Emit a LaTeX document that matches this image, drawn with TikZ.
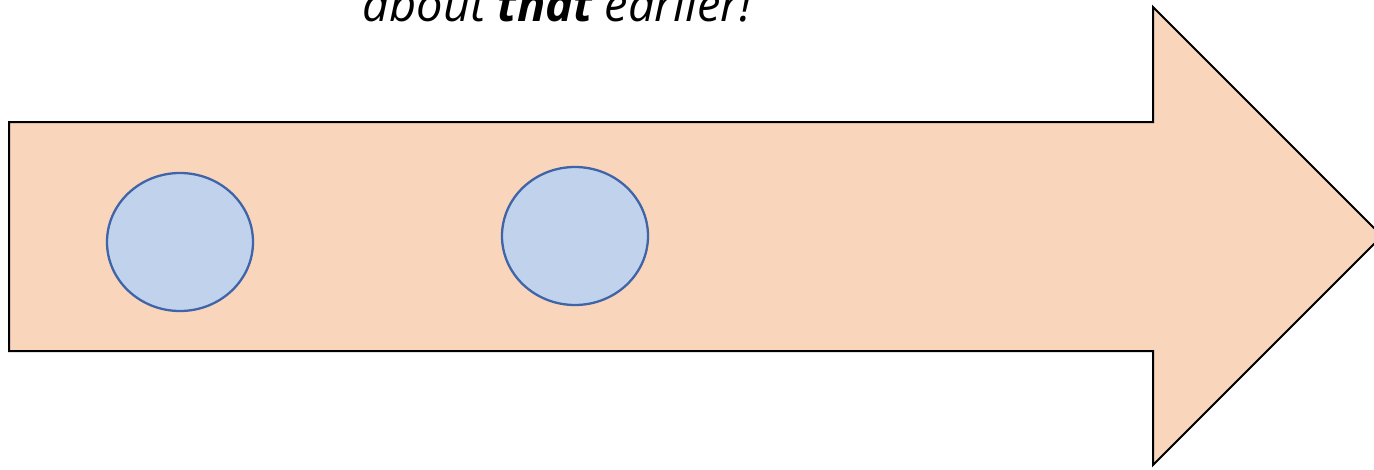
\documentclass[tikz,border=0pt]{standalone}
\usepackage{fontspec}
\setmainfont{Open Sans}
\usetikzlibrary{shapes.geometric}
\definecolor{arrowfill}{HTML}{F9D5BC}
\definecolor{dotfill}{HTML}{C1D3EC}
\definecolor{dotline}{HTML}{3F65A8}
\tikzset{
  bigarrow/.style={draw=black, line width=2pt, fill=arrowfill, line join=miter},
  dot/.style={ellipse, draw=dotline, line width=2.3pt, fill=dotfill, minimum width=146pt, minimum height=138pt, inner sep=0pt},
  caption/.style={font=\fontsize{47}{56}\selectfont\itshape, anchor=base, inner sep=0pt}
}
\begin{document}
\begin{tikzpicture}[x=1pt,y=-1pt]
\useasboundingbox (0,0) rectangle (1374,469);
\draw[bigarrow] (9,122) -- (1153,122) -- (1153,7) -- (1382,236) -- (1153,465) -- (1153,351) -- (9,351) -- cycle;
\node[dot] (c1) at (180,242) {};
\node[dot] (c2) at (575,236) {};
\node[caption] (t) at (557,21) {about \textbf{that} earlier!};
\end{tikzpicture}
\end{document}
